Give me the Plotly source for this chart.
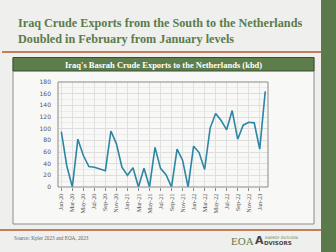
import plotly.graph_objects as go

months = ["Jan-20","Feb-20","Mar-20","Apr-20","May-20","Jun-20","Jul-20","Aug-20","Sep-20","Oct-20","Nov-20","Dec-20",
          "Jan-21","Feb-21","Mar-21","Apr-21","May-21","Jun-21","Jul-21","Aug-21","Sep-21","Oct-21","Nov-21","Dec-21",
          "Jan-22","Feb-22","Mar-22","Apr-22","May-22","Jun-22","Jul-22","Aug-22","Sep-22","Oct-22","Nov-22","Dec-22",
          "Jan-23","Feb-23"]
exports_kbd = [95, 36, 0, 82, 54, 35, 34, 31, 28, 96, 74, 34,
               20, 33, 0, 32, 0, 68, 32, 21, 0, 65, 46, 0,
               70, 59, 30, 101, 126, 114, 98, 131, 82, 106, 111, 110,
               65, 164]
tick_labels = months[0:37:2]
y_ticks = list(range(0, 181, 20))

L, R, T, B = 58, 68, 82, 65
W, H = 336, 252
PW, PH = W - L - R, H - T - B

def px(x):
    return (x - L) / PW

def py(y):
    return (H - B - y) / PH

green = "#5b7b4b"
orange = "#b4572a"

fig = go.Figure()
fig.add_trace(go.Scatter(x=months, y=exports_kbd, mode="lines",
                         line=dict(color="#2b86a3", width=1.6), hoverinfo="skip"))

shapes = [
    dict(type="rect", xref="paper", yref="paper", x0=px(321), x1=px(337), y0=py(-1), y1=py(253),
         fillcolor="#5b7a4c", line=dict(width=0), layer="below"),
    dict(type="line", xref="paper", yref="paper", x0=px(2), x1=px(322), y0=py(52), y1=py(52),
         line=dict(color=orange, width=1.6)),
    dict(type="line", xref="paper", yref="paper", x0=px(0), x1=px(322), y0=py(230), y1=py(230),
         line=dict(color=orange, width=1.6)),
    dict(type="rect", xref="paper", yref="paper", x0=px(13), x1=px(314), y0=py(224), y1=py(57.5),
         fillcolor="#f8f8f7", line=dict(color="#8c8c8c", width=1), layer="below"),
    dict(type="rect", xref="paper", yref="paper", x0=px(13), x1=px(314), y0=py(71), y1=py(57.5),
         fillcolor="#5d7d4a", line=dict(color="#3d4d35", width=1), layer="below"),
    dict(type="rect", xref="paper", yref="paper", x0=0, x1=1, y0=0, y1=1,
         line=dict(color="#8a8a8a", width=1)),
]

annotations = [
    dict(text="<b>Iraq Crude Exports from the South to the Netherlands<br>Doubled in February from January levels</b>",
         xref="paper", yref="paper", x=px(16), y=py(13.5), xanchor="left", yanchor="top", showarrow=False,
         align="left", font=dict(family="Liberation Serif", size=12.2, color=green)),
    dict(text="<b>Iraq's Basrah Crude Exports to the Netherlands (kbd)</b>",
         xref="paper", yref="paper", x=px(163.5), y=py(64.5), xanchor="center", yanchor="middle", showarrow=False,
         font=dict(family="Liberation Serif", size=8.5, color="white")),
    dict(text="Source: Kpler 2023 and EOA, 2023",
         xref="paper", yref="paper", x=px(12), y=py(237.5), xanchor="left", yanchor="middle", showarrow=False,
         font=dict(family="Liberation Serif", size=5.2, color="#666666")),
    dict(text="EOA", xref="paper", yref="paper", x=px(229), y=py(240.5), xanchor="left", yanchor="middle",
         showarrow=False, font=dict(family="Liberation Serif", size=11, color=green)),
    dict(text="<b>A</b>", xref="paper", yref="paper", x=px(253), y=py(240.5), xanchor="left", yanchor="middle",
         showarrow=False, font=dict(family="DejaVu Sans", size=11, color="#444444")),
    dict(text="ENERGY OUTLOOK", xref="paper", yref="paper", x=px(263), y=py(237.5), xanchor="left", yanchor="middle",
         showarrow=False, font=dict(family="DejaVu Sans", size=3.6, color=green)),
    dict(text="<b>DVISORS</b>", xref="paper", yref="paper", x=px(262), y=py(242.5), xanchor="left", yanchor="middle",
         showarrow=False, font=dict(family="DejaVu Sans", size=5.5, color="#444444")),
]

fig.update_layout(
    width=W, height=H,
    margin=dict(l=L, r=R, t=T, b=B, pad=0),
    paper_bgcolor="#efefed",
    plot_bgcolor="#f8f8f7",
    showlegend=False,
    shapes=shapes,
    annotations=annotations,
    xaxis=dict(type="category", categoryorder="array", categoryarray=months,
               range=[-0.6, 37.5], tickmode="array", tickvals=tick_labels, ticktext=tick_labels,
               tickangle=-90, ticks="outside", ticklen=3, tickcolor="#8a8a8a",
               showgrid=True, gridcolor="#e0e0e0", gridwidth=1, zeroline=False,
               tickfont=dict(family="Liberation Serif", size=6.3, color="#555555")),
    yaxis=dict(range=[0, 180], tickmode="array", tickvals=y_ticks, ticks="", showgrid=True,
               gridcolor="#dedede", gridwidth=1, zeroline=False, ticklabelstandoff=6,
               minor=dict(dtick=10, showgrid=True, gridcolor="#ececec"),
               tickfont=dict(family="DejaVu Sans", size=6, color="#555555")),
)

fig.write_html("out.html")
